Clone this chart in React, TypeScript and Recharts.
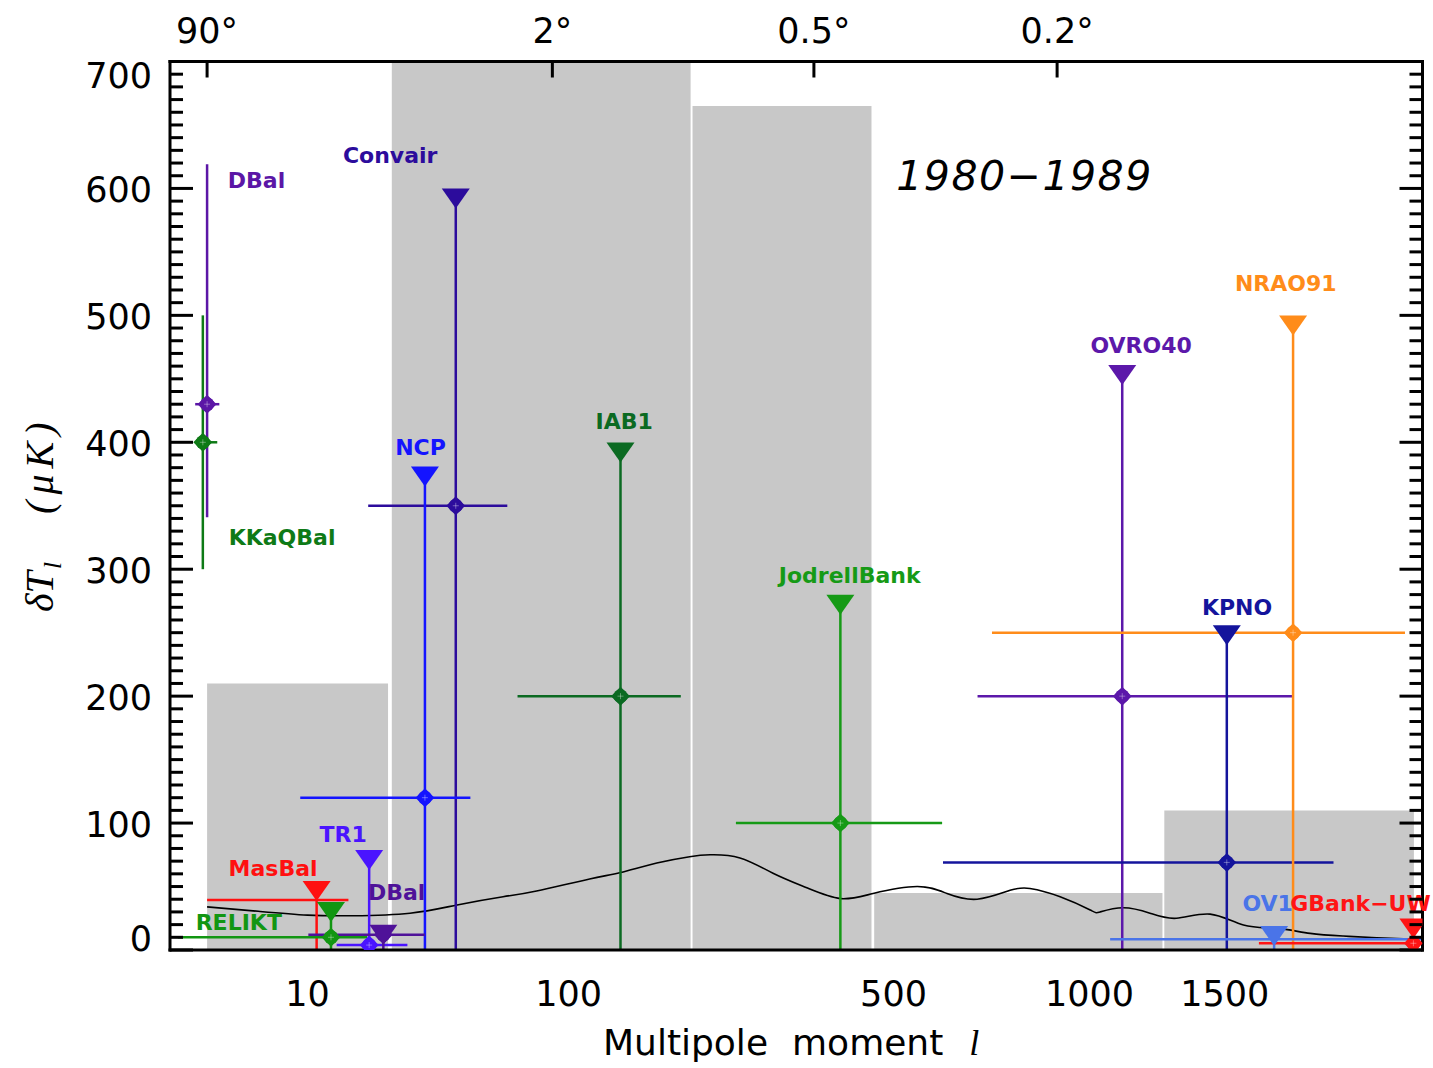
import React from "react";
import {
  ComposedChart,
  XAxis,
  YAxis,
  Line,
  Scatter,
  ErrorBar,
  ReferenceArea,
  ReferenceDot,
} from "recharts";

const SANS = "'DejaVu Sans', 'Noto Sans', sans-serif";
const SERIF = "'Liberation Serif', 'DejaVu Serif', serif";

// multipole axis is linear in l^0.3
const POW = 0.3;
const toX = (l: number) => Math.pow(l, POW);
const L_MIN = 0.84;
const L_MAX = 2515;

// tick labels
const bottomTickEll = [10, 100, 500, 1000, 1500];
const topTickEll = [2, 90, 360, 900];
const topTickLabels = ["90°", "2°", "0.5°", "0.2°"];
const yMajor = [0, 100, 200, 300, 400, 500, 600, 700];
const yTicks = Array.from({ length: 71 }, (_, i) => i * 10);

// gray bins (band powers)
const binLo = [2, 25.3, 203, 463, 1259];
const binHi = [24.4, 201, 458, 1252, 2463];
const binPower = [210, 720, 665, 45, 110];

// model spectrum
const curveEll = [
  2, 5, 10, 17, 30, 45, 64, 81, 114, 137, 168, 200, 222, 257, 300, 349, 403,
  461, 548, 613, 684, 768, 822, 909, 1002, 1034, 1111, 1206, 1305, 1439, 1581,
  1733, 1894, 2064, 2246, 2438, 2500,
];
const curveDT = [
  34, 30.5, 27.5, 27, 29, 35.5, 42, 46.5, 56, 61, 68.5, 73.5, 75, 72.5, 60.5,
  49, 40.5, 44.5, 50, 44.5, 40, 47, 48.5, 42, 31.5, 30, 33.3, 29, 25, 28.3,
  19.7, 17, 13.1, 11, 9.7, 8.7, 8.5,
];

// experiments 1980-1989
const expNames = [
  "DBal", "KKaQBal", "Convair", "NCP", "IAB1", "JodrellBank", "OVRO40", "KPNO",
  "NRAO91", "MasBal", "TR1", "DBal", "RELIKT", "OV1", "GBank−UW",
];
const expColors = [
  "#5b16a6", "#0e7a16", "#2c0c9c", "#1414ff", "#0b6a22", "#169a16", "#5c18aa",
  "#14149c", "#ff8c1a", "#ff1010", "#4a14ff", "#4f1299", "#129612", "#4a74e8",
  "#ff1414",
];
const expEll = [2, 1.83, 44.5, 34.3, 137, 403, 1108, 1509, 1810, 11.2, 20.2, 23.3, 13.3, 1720, 2460];
const expEllLo = [1.55, 1.55, 20, 9.1, 71, 252, 685, 604, 721, 2, 14.2, 10.1, 1.03, 1067, 1650];
const expEllHi = [2.55, 2.45, 66, 50, 191, 602, 1810, 2013, 2410, 16.2, 29.3, 34.3, 19.8, 2510, 2510];
const expDT = [430, 400, 350, 120, 200, 100, 200, 69, 250, 39.4, 3.9, 12, 10, 8.4, 5.3];
const expDTLo = [341, 300, 0, 0, 0, 0, 0, 0, 0, 0, 0, 0, 0, 0, 0];
const expDTHi = [619, 500, 592, 373, 392, 272, 453, 248, 492, 46.5, 71, 12, 30, 11, 17];
const expUpper = [null, null, 592, 373, 392, 272, 453, 248, 492, 46.5, 71, 12, 30, 11, 17];
const expMarked = [true, true, true, true, true, true, true, true, true, false, true, true, true, false, true];
const labelEll = [4.86, 7.11, 24.9, 33.0, 140, 419, 1174, 1553, 1775, 6.25, 15.3, 26.5, 3.63, 1690, 2157];
const labelDT = [606, 325, 626, 396, 416, 295, 476, 270, 525, 64, 91, 45, 22, 37, 37];

const PERIOD = "1980−1989";
const periodEll = 807;
const periodDT = 610;

const curveData = curveEll.map((l, i) => ({ x: toX(l), y: curveDT[i] }));

const expRows = expNames.map((_, i) => {
  const x = toX(expEll[i]);
  return {
    x,
    y: expDT[i],
    color: expColors[i],
    ex: [x - toX(expEllLo[i]), toX(expEllHi[i]) - x],
    ey: [expDT[i] - expDTLo[i], expDTHi[i] - expDT[i]],
  };
});

const triRows = expUpper
  .map((u, i) => (u === null ? null : { x: toX(expEll[i]), y: u, color: expColors[i] }))
  .filter(Boolean);

const LeftTick = (p: any) => {
  const { x, y, payload } = p;
  const v = payload.value;
  const major = yMajor.includes(v);
  let dy = 2;
  if (v === 0) dy = -11;
  if (v === 700) dy = 14;
  return (
    <g>
      <line x1={x} x2={x + (major ? 23 : 13)} y1={y} y2={y} stroke="#000" strokeWidth={3} />
      {major && (
        <text x={x - 18} y={y + dy} textAnchor="end" dominantBaseline="central" fontSize={35} fontFamily={SANS} fill="#000">
          {v}
        </text>
      )}
    </g>
  );
};

const RightTick = (p: any) => {
  const { x, y, payload } = p;
  const major = yMajor.includes(payload.value);
  return <line x1={x} x2={x - (major ? 23 : 13)} y1={y} y2={y} stroke="#000" strokeWidth={3} />;
};

const BottomTick = (p: any) => {
  const { x, y, index } = p;
  return (
    <text x={x} y={y + 44} textAnchor="middle" dominantBaseline="central" fontSize={35} fontFamily={SANS} fill="#000">
      {bottomTickEll[index]}
    </text>
  );
};

const TopTick = (p: any) => {
  const { x, y, index } = p;
  return (
    <g>
      <line x1={x} x2={x} y1={y} y2={y + 16} stroke="#000" strokeWidth={3} />
      <text x={x} y={y - 31} textAnchor="middle" dominantBaseline="central" fontSize={35} fontFamily={SANS} fill="#000">
        {topTickLabels[index]}
      </text>
    </g>
  );
};

const PointMarker = (p: any) => {
  const { cx, cy, payload } = p;
  const c = payload.color;
  return (
    <g>
      <path d={`M${cx},${cy - 9.5} L${cx + 9.5},${cy} L${cx},${cy + 9.5} L${cx - 9.5},${cy} Z`} fill={c} />
      <circle cx={cx} cy={cy} r={7} fill={c} />
      <path
        d={`M${cx - 3},${cy} H${cx + 3} M${cx},${cy - 3} V${cy + 3}`}
        stroke="#fff"
        strokeOpacity={0.35}
        strokeWidth={1}
      />
    </g>
  );
};

const NoMarker = () => <g />;

const Triangle = (p: any) => {
  const { cx, cy, payload } = p;
  return (
    <path
      d={`M${cx - 14},${cy - 10} L${cx + 14},${cy - 10} L${cx},${cy + 10} Z`}
      fill={payload.color}
    />
  );
};

const XTitle = () => (
  <text x={603} y={1055} fontSize={36} fontFamily={SANS} fill="#000">
    <tspan>Multipole</tspan>
    <tspan dx={24}>moment</tspan>
    <tspan dx={26} fontFamily={SERIF} fontStyle="italic">l</tspan>
  </text>
);

const YTitle = () => (
  <text
    x={53}
    y={612}
    transform="rotate(-90 53 612)"
    fontSize={40}
    fontFamily={SERIF}
    fontStyle="italic"
    fill="#000"
  >
    <tspan>δT</tspan>
    <tspan fontSize={26} dx={2} dy={8}>l</tspan>
    <tspan dx={48} dy={-8} letterSpacing={6}>(μK)</tspan>
  </text>
);

export default function App() {
  const xDomain = [toX(L_MIN), toX(L_MAX)];
  return (
    <div style={{ position: "absolute", left: 0, top: 0, background: "#fff" }}>
      <ComposedChart width={1433} height={1068} margin={{ top: 0, right: 0, bottom: 0, left: 0 }}>
        <XAxis
          xAxisId="b"
          dataKey="x"
          type="number"
          domain={xDomain}
          allowDataOverflow
          ticks={bottomTickEll.map(toX)}
          interval={0}
          height={118}
          tickLine={false}
          tickSize={0}
          tickMargin={0}
          axisLine={{ stroke: "#000", strokeWidth: 3, strokeLinecap: "square" }}
          tick={(p: any) => <BottomTick {...p} />}
          label={{ content: () => <XTitle /> }}
        />
        <XAxis
          xAxisId="t"
          orientation="top"
          dataKey="x"
          type="number"
          domain={xDomain}
          allowDataOverflow
          ticks={topTickEll.map(toX)}
          interval={0}
          height={61.5}
          tickLine={false}
          tickSize={0}
          tickMargin={0}
          axisLine={{ stroke: "#000", strokeWidth: 3, strokeLinecap: "square" }}
          tick={(p: any) => <TopTick {...p} />}
        />
        <YAxis
          yAxisId="l"
          dataKey="y"
          type="number"
          domain={[0, 700]}
          allowDataOverflow
          ticks={yTicks}
          interval={0}
          width={170}
          tickLine={false}
          tickSize={0}
          tickMargin={0}
          axisLine={{ stroke: "#000", strokeWidth: 3, strokeLinecap: "square" }}
          tick={(p: any) => <LeftTick {...p} />}
          label={{ content: () => <YTitle /> }}
        />
        <YAxis
          yAxisId="r"
          orientation="right"
          dataKey="y"
          type="number"
          domain={[0, 700]}
          allowDataOverflow
          ticks={yTicks}
          interval={0}
          width={10.5}
          tickLine={false}
          tickSize={0}
          tickMargin={0}
          axisLine={{ stroke: "#000", strokeWidth: 3, strokeLinecap: "square" }}
          tick={(p: any) => <RightTick {...p} />}
        />

        {binLo.map((lo, i) => (
          <ReferenceArea
            key={`bin-${i}`}
            xAxisId="b"
            yAxisId="l"
            x1={toX(lo)}
            x2={toX(binHi[i])}
            y1={0}
            y2={binPower[i]}
            fill="#c8c8c8"
            fillOpacity={1}
            stroke="none"
            ifOverflow="hidden"
          />
        ))}

        <Line
          xAxisId="b"
          yAxisId="l"
          data={curveData}
          dataKey="y"
          type="natural"
          stroke="#000"
          strokeWidth={1.6}
          dot={false}
          activeDot={false}
          isAnimationActive={false}
        />

        {expRows.map((row, i) => (
          <Scatter
            key={`exp-${i}`}
            name={`${expNames[i]}-${i}`}
            xAxisId="b"
            yAxisId="l"
            data={[row]}
            dataKey="y"
            fill={expColors[i]}
            shape={expMarked[i] ? PointMarker : NoMarker}
            isAnimationActive={false}
          >
            <ErrorBar dataKey="ex" direction="x" width={0} stroke={expColors[i]} strokeWidth={2.5} isAnimationActive={false} />
            <ErrorBar dataKey="ey" direction="y" width={0} stroke={expColors[i]} strokeWidth={2.5} isAnimationActive={false} />
          </Scatter>
        ))}

        <Scatter
          name="upper limits"
          xAxisId="b"
          yAxisId="l"
          data={triRows}
          dataKey="y"
          shape={Triangle}
          isAnimationActive={false}
        />

        {expNames.map((name, i) => (
          <ReferenceDot
            key={`lab-${i}`}
            xAxisId="b"
            yAxisId="l"
            x={toX(labelEll[i])}
            y={labelDT[i]}
            r={0}
            shape={(p: any) => (
              <text
                x={p.cx}
                y={p.cy}
                textAnchor="middle"
                dominantBaseline="central"
                fontSize={22}
                fontWeight="bold"
                fontFamily={SANS}
                fill={expColors[i]}
              >
                {name}
              </text>
            )}
          />
        ))}

        <ReferenceDot
          xAxisId="b"
          yAxisId="l"
          x={toX(periodEll)}
          y={periodDT}
          r={0}
          shape={(p: any) => (
            <text
              x={p.cx}
              y={p.cy}
              textAnchor="middle"
              dominantBaseline="central"
              fontSize={41}
              fontStyle="italic"
              letterSpacing={1.5}
              fontFamily={SANS}
              fill="#000"
            >
              {PERIOD}
            </text>
          )}
        />
      </ComposedChart>
    </div>
  );
}
